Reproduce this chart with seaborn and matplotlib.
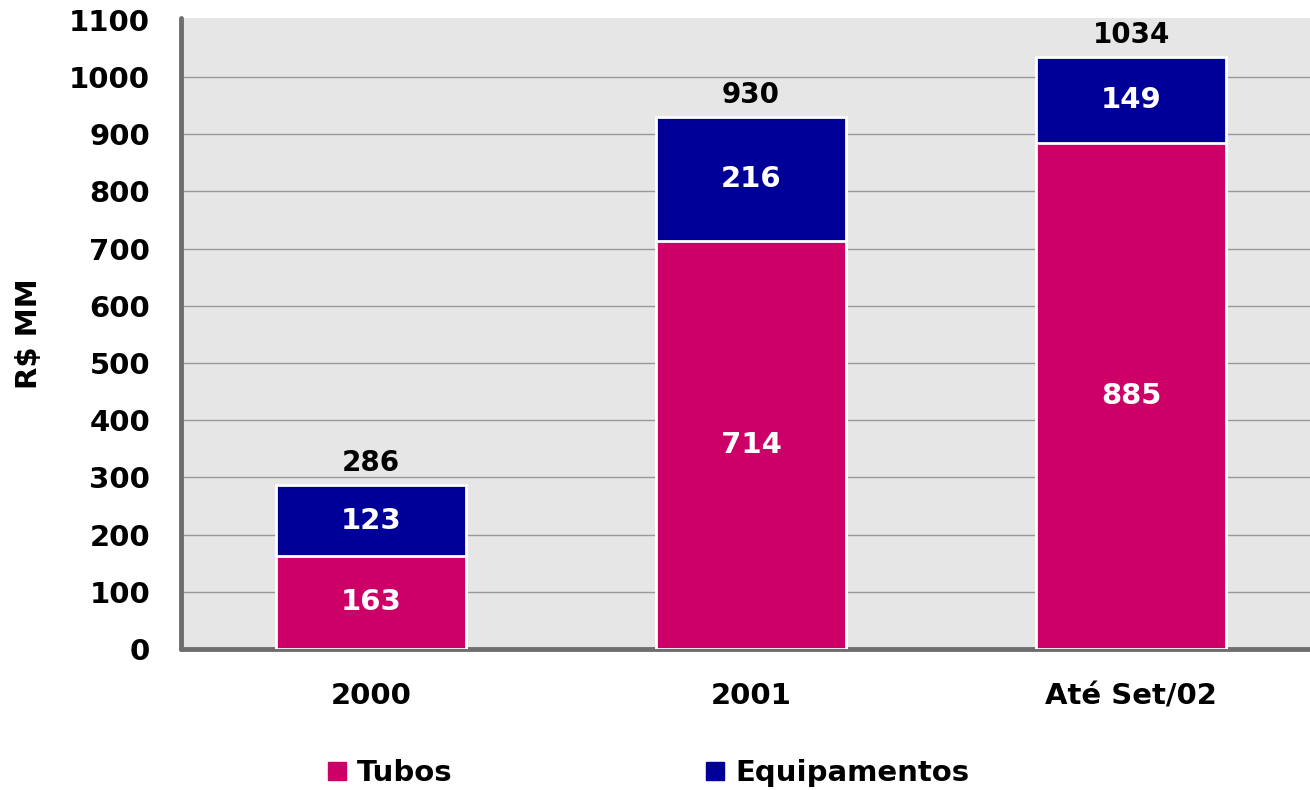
import seaborn as sns
import matplotlib.pyplot as plt
from matplotlib.lines import Line2D
import pandas as pd

# data
categories = ['2000', '2001', 'Até Set/02']
tubos = [163, 714, 885]
equipamentos = [123, 216, 149]
totals = [t + e for t, e in zip(tubos, equipamentos)]

df = pd.DataFrame({
    'Periodo': categories,
    'Tubos': tubos,
    'Equipamentos': equipamentos,
    'Total': totals,
})

sns.set_style("white")
plt.rcParams['font.family'] = ['DejaVu Sans']
plt.rcParams['font.weight'] = 'bold'
plt.rcParams['text.color'] = 'black'
plt.rcParams['axes.labelcolor'] = 'black'
plt.rcParams['xtick.color'] = 'black'
plt.rcParams['ytick.color'] = 'black'

c_tubos = '#CC0066'
c_equip = '#000099'

fig = plt.figure(figsize=(13.1, 7.9), dpi=100)
ax = fig.add_axes([0.138, 0.1785, 0.862, 0.7987])
ax.set_facecolor('#e6e6e6')

# stacked bars: draw the total in blue, then the tubos part over it
sns.barplot(data=df, x='Periodo', y='Total', color=c_equip, width=0.5,
            edgecolor='white', linewidth=2, saturation=1, ax=ax, zorder=3)
sns.barplot(data=df, x='Periodo', y='Tubos', color=c_tubos, width=0.5,
            edgecolor='white', linewidth=2, saturation=1, ax=ax, zorder=3)

ax.set_ylim(0, 1103)
ax.set_xlim(-0.5, 2.47)
ax.set_yticks(range(0, 1101, 100))
# gridlines from 100 to 1000 only
for yv in range(100, 1001, 100):
    ax.axhline(yv, color='#999999', linewidth=1.0, zorder=1)

ax.tick_params(axis='y', length=0, pad=22, labelsize=21)
ax.tick_params(axis='x', length=0, pad=24, labelsize=21)
for lbl in ax.get_xticklabels() + ax.get_yticklabels():
    lbl.set_fontweight('bold')

ax.set_xlabel('')
ax.set_ylabel('R$ MM', fontsize=21, fontweight='bold', labelpad=19)

for side in ['top', 'right']:
    ax.spines[side].set_visible(False)
for side in ['left', 'bottom']:
    ax.spines[side].set_color('#6e6e6e')
    ax.spines[side].set_linewidth(3.5)
    ax.spines[side].set_capstyle('round')

# value labels
for i in range(len(categories)):
    ax.text(i, tubos[i] / 2, str(tubos[i]), ha='center', va='center',
            color='white', fontsize=21, fontweight='bold', zorder=5)
    ax.text(i, tubos[i] + equipamentos[i] / 2, str(equipamentos[i]),
            ha='center', va='center', color='white', fontsize=21,
            fontweight='bold', zorder=5)
    ax.annotate(str(totals[i]), (i, totals[i]), xytext=(0, 6),
                textcoords='offset points', ha='center', va='bottom',
                fontsize=20, fontweight='bold', color='black', zorder=5)

handles = [
    Line2D([], [], marker='s', linestyle='none', markersize=13,
           markerfacecolor=c_tubos, markeredgecolor=c_tubos, label='Tubos'),
    Line2D([], [], marker='s', linestyle='none', markersize=13,
           markerfacecolor=c_equip, markeredgecolor=c_equip, label='Equipamentos'),
]
fig.legend(handles=handles, loc='lower center', bbox_to_anchor=(0.492, -0.03),
           ncol=2, frameon=False, prop={'size': 21, 'weight': 'bold'},
           handletextpad=0.1, columnspacing=8.4, handlelength=1.2)

fig.savefig('out.png', dpi=100)
